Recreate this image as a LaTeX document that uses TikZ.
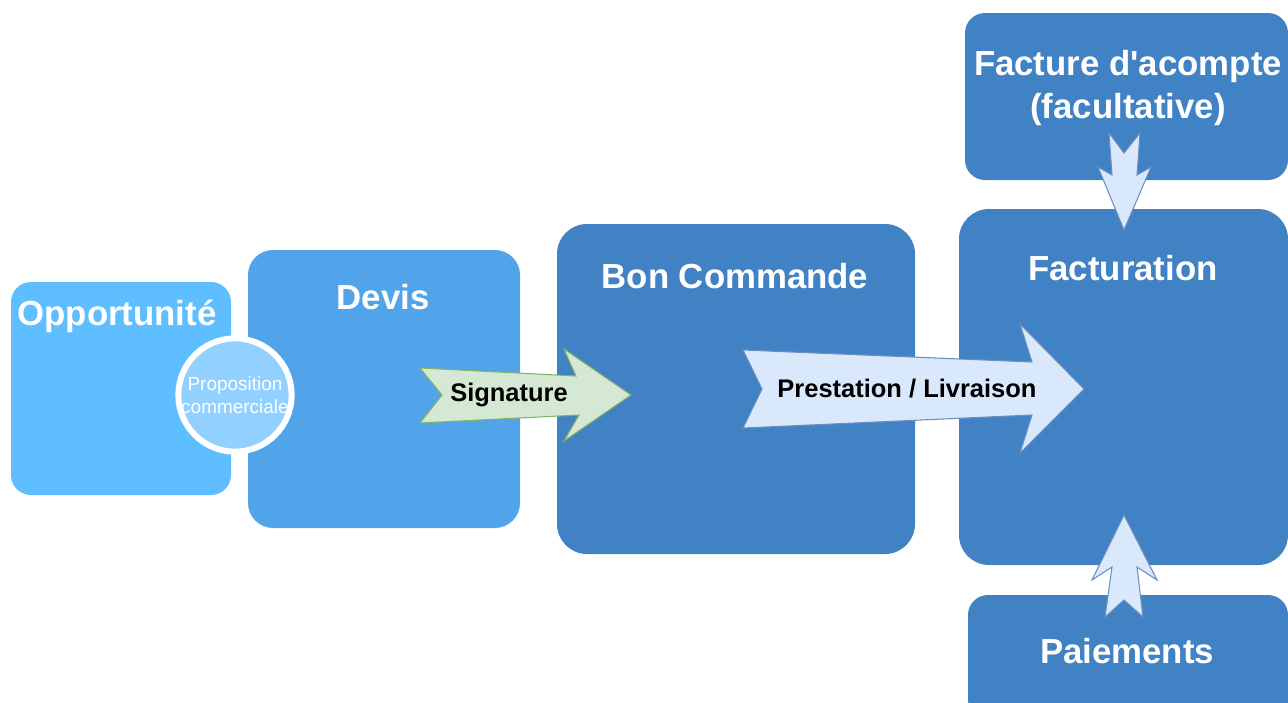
\documentclass[tikz,border=0pt]{standalone}
\usepackage{fontspec}
\setmainfont{Liberation Sans}
\usepackage{xcolor}
\usepackage{tikz}
\usetikzlibrary{fit}
\definecolor{oppblue}{HTML}{5FBEFF}
\definecolor{devisblue}{HTML}{52A4EA}
\definecolor{mainblue}{HTML}{4182C4}
\definecolor{propblue}{HTML}{91D0FF}
\definecolor{signfill}{HTML}{D5E8D4}
\definecolor{signline}{HTML}{82B366}
\definecolor{livfill}{HTML}{DAE8FC}
\definecolor{livline}{HTML}{6C8EBF}
\tikzset{
    box/.style={
        inner sep=0pt,
        rounded corners=0.5cm
    },
    title/.style={
        text=white,
        font=\fontsize{19.8}{24}\selectfont\bfseries,
        align=center
    },
    arrowlabel/.style={
        font=\fontsize{14.5}{17}\selectfont\bfseries
    },
    signarrow/.style={fill=signfill, draw=signline, line width=0.6pt},
    livarrow/.style={fill=livfill, draw=livline, line width=0.6pt}
}

\begin{document}
\begin{tikzpicture}[x=0.02cm, y=-0.02cm]
\useasboundingbox (0,0) rectangle (1288,703);

% boxes
\node[box, fill=oppblue, rounded corners=0.4cm, fit={(11,282) (231,495)}] (opp) {};
\node[box, fill=devisblue, fit={(248,250) (520,528)}] (devis) {};
\node[box, fill=mainblue, rounded corners=0.6cm, fit={(557,224) (915,554)}] (bc) {};
\node[box, fill=mainblue, rounded corners=0.6cm, fit={(959,209) (1288,565)}] (fact) {};
\node[box, fill=mainblue, rounded corners=0.4cm, fit={(965,13) (1288,180)}] (acompte) {};
\node[box, fill=mainblue, rounded corners=0.4cm, fit={(968,595) (1288,720)}] (paie) {};

% titles
\node[title] (opptitle) at (117,316) {Opportunité};
\node[title] (devistitle) at (383,297) {Devis};
\node[title] (bctitle) at (735,276) {Bon Commande};
\node[title] (facttitle) at (1123,268) {Facturation};
\node[title] (acomptetitle) at (1128,88) {Facture d\textquotesingle acompte\\(facultative)};
\node[title] (paietitle) at (1127,651) {Paiements};

% proposition commerciale
\node[circle, fill=propblue, draw=white, line width=0.12cm, minimum size=2.26cm,
      inner sep=0pt, text=white, align=center,
      font=\fontsize{10.8}{13}\selectfont] (prop) at (235,395) {Proposition\\commerciale};

% arrows
\filldraw[signarrow] (420,368) -- (576,376) -- (564,349) -- (631,395) -- (564,441)
    -- (579,415) -- (420,423) -- (442,395) -- cycle;
\node[arrowlabel] (sign) at (509,395) {Signature};

\filldraw[livarrow] (743,350) -- (1032,362) -- (1020,324) -- (1084,389) -- (1020,453)
    -- (1032,415) -- (743,428) -- (762,389) -- cycle;
\node[arrowlabel] (liv) at (907,389) {Prestation / Livraison};

\filldraw[livarrow] (1109,133) -- (1124,153) -- (1140,133) -- (1137,175) -- (1151,167)
    -- (1124,230) -- (1098,167) -- (1112,175) -- cycle;

\filldraw[livarrow] (1124,515) -- (1157,580) -- (1137,567) -- (1143,617) -- (1124,600)
    -- (1105,617) -- (1112,567) -- (1092,580) -- cycle;

\end{tikzpicture}
\end{document}
